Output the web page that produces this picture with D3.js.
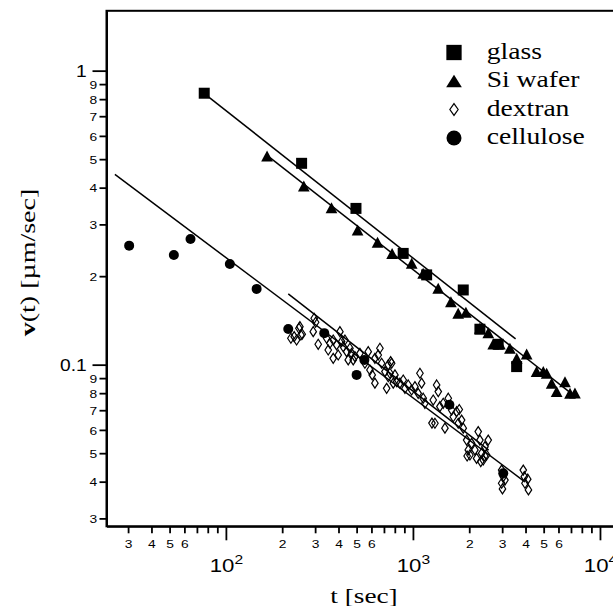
<!DOCTYPE html>
<html>
<head>
<meta charset="utf-8">
<script src="https://cdn.jsdelivr.net/npm/d3@7"></script>
<style>
  html, body { margin: 0; padding: 0; background: #fff; }
  svg { display: block; }
</style>
</head>
<body>
<div id="chart"></div>
<script>
'use strict';

// values (t in sec, v in um/sec)
const glass_t = [76.6, 254, 496, 887, 1184, 1858, 2281, 2857, 3585]
const glass_v = [0.838, 0.484, 0.340, 0.239, 0.202, 0.1795, 0.132, 0.1173, 0.0985]

const si_t = [166, 261, 367, 506, 647, 774, 985, 1134, 1365, 1596, 1746, 1920, 2280, 2528,
  2687, 2918, 3300, 3588, 4056, 4583, 4977, 5188, 5517, 5866, 6501, 6916, 7349]
const si_v = [0.513, 0.4055, 0.342, 0.287, 0.261, 0.2388, 0.2213, 0.2046, 0.182, 0.1637, 0.1496, 0.1508, 0.133, 0.1285,
  0.1175, 0.1175, 0.1137, 0.1051, 0.1088, 0.0947, 0.0947, 0.0935, 0.0865, 0.081, 0.0875, 0.0799, 0.0801]

const dextran_t = [222.6, 231.8, 238.8, 245.7, 251.8, 255.9, 296.6, 301.8, 293, 311.6, 345.6, 352.5, 359.8, 374.8,
  390.8, 407, 415.6, 424, 432.9, 442.1, 460.4, 470.2, 479.5, 489.6, 398.6, 374.8, 450.8, 520.7, 553.7, 576.7,
  589, 605.9, 626.3, 626.3, 652.3, 666.1, 680.2, 708.6, 723.6, 737.9, 769.5, 784.9, 801.4, 818.3, 737.9, 760,
  753.5, 852.3, 887.5, 906.3, 943.9, 984.1, 1025, 1067, 1090, 1113, 1135, 1159, 1284, 1311, 1339, 1366, 1394,
  1452, 1483, 1545, 1611, 1643, 1713, 1747, 1821, 1858, 1937, 1976, 2017, 2060, 2145, 2190, 2234, 2281, 2330,
  2376, 2427, 2478, 2527, 2981, 3041, 2981, 3105, 3011, 3890, 3939, 3972, 4110, 4146, 1264, 1769, 1949, 2421,
  2305, 248.7]
const dextran_v = [0.1230, 0.1245, 0.1213, 0.1330, 0.1262, 0.1269, 0.1438, 0.1394, 0.1295, 0.1173, 0.1230, 0.1122, 0.1183, 0.1213,
  0.1167, 0.1295, 0.1198, 0.1151, 0.1213, 0.1107, 0.1137, 0.1093, 0.1038, 0.1065, 0.1079, 0.1051, 0.1038, 0.1093, 0.1011, 0.1107,
  0.0959, 0.0923, 0.0865, 0.1051, 0.1079, 0.1137, 0.1011, 0.0947, 0.0831, 0.0910, 0.1011, 0.0865, 0.0923, 0.0876, 0.0998, 0.1024,
  0.0935, 0.0865, 0.0887, 0.0831, 0.0853, 0.0820, 0.0842, 0.0799, 0.0935, 0.0865, 0.0769, 0.0739, 0.0758, 0.0632, 0.0853, 0.0810, 0.0720,
  0.0739, 0.0608, 0.0769, 0.0701, 0.0665, 0.0692, 0.0632, 0.0648, 0.0608, 0.0554, 0.0513, 0.0493, 0.0540, 0.0513, 0.0480, 0.0592, 0.0554, 0.0500,
  0.0474, 0.0526, 0.0493, 0.0554, 0.0438, 0.0416, 0.0395, 0.0405, 0.0378, 0.0438, 0.0416, 0.0395, 0.0408, 0.0375, 0.0633, 0.0704, 0.0489, 0.0489,
  0.0468, 0.1347]

const cellulose_t = [30.4, 52.7, 64.7, 105, 146, 215.5, 335.7, 500, 550, 1567, 3041]
const cellulose_v = [0.254, 0.236, 0.2677, 0.220, 0.181, 0.1322, 0.128, 0.0923, 0.1038, 0.0731, 0.0427]

// power law fit lines, end points [t, v]
const glass_fit = [[80.4, 0.816], [3540, 0.1223]]
const si_fit = [[172, 0.506], [7330, 0.0782]]
const dextran_fit = [[215.5, 0.174], [2541, 0.0512]]
const cellulose_fit = [[25.5, 0.444], [3918, 0.0402]]

// axis ticks
const x_ticks = [30, 40, 50, 60, 70, 80, 90, 100, 200, 300, 400, 500, 600, 700, 800, 900,
  1000, 2000, 3000, 4000, 5000, 6000, 7000, 8000, 9000, 10000]
const x_tick_labels = ['3', '4', '5', '6', '', '', '', '10^2', '2', '3', '4', '5', '6', '', '', '',
  '10^3', '2', '3', '4', '5', '6', '', '', '', '10^4']
const y_ticks = [0.03, 0.04, 0.05, 0.06, 0.07, 0.08, 0.09, 0.1, 0.2, 0.3, 0.4, 0.5, 0.6, 0.7, 0.8, 0.9, 1]
const y_tick_labels = ['3', '4', '5', '6', '7', '8', '9', '0.1', '2', '3', '4', '5', '6', '7', '8', '9', '1']
const x_major = [100, 1000, 10000]
const y_major = [0.1, 1]

const legend_names = ['glass', 'Si wafer', 'dextran', 'cellulose']

const serif_font = "'Liberation Serif', 'Times New Roman', serif"
const sans_font = "'Liberation Sans', Arial, sans-serif"

// dimensions
const dimensions = {
  width: 613,
  height: 606,
  left: 106.5,
  right: 613,
  top: 10.8,
  bottom: 526.3
}

const svg_el = d3.select('#chart')
  .append('svg')
  .attr('width', dimensions.width)
  .attr('height', dimensions.height)

const x_scale = d3.scaleLog()
  .domain([23, 11740])
  .range([dimensions.left, dimensions.right])

const y_scale = d3.scaleLog()
  .domain([0.0282, 1.598])
  .range([dimensions.bottom, dimensions.top])

// marker shapes
const square_path = s => `M${-s/2},${-s/2}h${s}v${s}h${-s}Z`
const triangle_path = (w, h) => `M0,${-h/2}L${w/2},${h/2}L${-w/2},${h/2}Z`
const diamond_path = (w, h) => `M0,${-h/2}L${w/2},0L0,${h/2}L${-w/2},0Z`

// frame (top edge, right edge sits off the picture)
svg_el.append('rect')
  .attr('x', dimensions.left)
  .attr('y', dimensions.top)
  .attr('width', dimensions.right - dimensions.left + 20)
  .attr('height', dimensions.bottom - dimensions.top)
  .attr('fill', 'none')
  .attr('stroke', 'black')
  .attr('stroke-width', 2)

// x axis
const xAxis = d3.axisBottom(x_scale)
  .tickValues(x_ticks)
  .tickSize(7)
  .tickSizeOuter(0)
  .tickFormat((d, i) => x_tick_labels[i])

const xAxisGroup = svg_el.append('g')
  .attr('transform', `translate(0, ${dimensions.bottom})`)
  .call(xAxis)

xAxisGroup.select('.domain').attr('stroke-width', 2)
xAxisGroup.selectAll('.tick line')
  .attr('stroke-width', 1.8)
  .attr('y2', d => x_major.includes(d) ? 14 : 7)
xAxisGroup.selectAll('.tick text')
  .style('font-family', sans_font)
  .attr('font-size', 11.5)
  .attr('fill', 'black')
  .attr('y', 14)
  .attr('dy', '0.71em')
  .attr('transform', 'scale(1.2,1)')
  .each(function(d) {
    if(!x_major.includes(d)) return
    const parts = d3.select(this).text().split('^')
    const txt = d3.select(this).text('').attr('y', 45.7).attr('dy', 0).attr('font-size', 18.5)
    txt.append('tspan').text(parts[0])
    txt.append('tspan').attr('dy', -8).attr('font-size', 13).text(parts[1])
  })

// y axis
const yAxis = d3.axisLeft(y_scale)
  .tickValues(y_ticks)
  .tickSize(7)
  .tickSizeOuter(0)
  .tickFormat((d, i) => y_tick_labels[i])

const yAxisGroup = svg_el.append('g')
  .attr('transform', `translate(${dimensions.left}, 0)`)
  .call(yAxis)

yAxisGroup.select('.domain').attr('stroke-width', 2)
yAxisGroup.selectAll('.tick line')
  .attr('stroke-width', 1.8)
  .attr('x2', d => y_major.includes(d) ? -14 : -7)
yAxisGroup.selectAll('.tick text')
  .style('font-family', sans_font)
  .attr('fill', 'black')
  .attr('font-size', d => y_major.includes(d) ? 16 : 11.5)
  .attr('x', d => y_major.includes(d) ? -16.5 : -7.7)
  .attr('dy', '0.36em')
  .attr('transform', 'scale(1.2,1)')

// titles
svg_el.append('text')
  .style('font-family', serif_font)
  .style('font-size', '22px')
  .attr('transform', 'translate(364, 603) scale(1.24,1)')
  .attr('text-anchor', 'middle')
  .text('t [sec]')

const y_title = svg_el.append('text')
  .style('font-family', serif_font)
  .style('font-size', '20px')
  .attr('transform', 'translate(35, 262.5) rotate(-90) scale(1.4,1)')
  .attr('text-anchor', 'middle')
y_title.append('tspan').style('font-weight', 'bold').text('v')
y_title.append('tspan').style('font-weight', 'normal').text('(t) [µm/sec]')

// fit lines
const line = d3.line()
  .x(d => x_scale(d[0]))
  .y(d => y_scale(d[1]))

svg_el.append('g')
  .selectAll('path')
  .data([glass_fit, si_fit, dextran_fit, cellulose_fit])
  .join('path')
  .attr('d', line)
  .attr('fill', 'none')
  .attr('stroke', 'black')
  .attr('stroke-width', 1.5)

// markers
const points_g = svg_el.append('g')

points_g.append('g')
  .selectAll('path')
  .data(d3.zip(dextran_t, dextran_v))
  .join('path')
  .attr('transform', d => `translate(${x_scale(d[0])},${y_scale(d[1])})`)
  .attr('d', diamond_path(6.5, 10))
  .attr('fill', 'none')
  .attr('stroke', 'black')
  .attr('stroke-width', 1.2)

points_g.append('g')
  .selectAll('circle')
  .data(d3.zip(cellulose_t, cellulose_v))
  .join('circle')
  .attr('cx', d => x_scale(d[0]))
  .attr('cy', d => y_scale(d[1]))
  .attr('r', 5)
  .attr('fill', 'black')

points_g.append('g')
  .selectAll('path')
  .data(d3.zip(si_t, si_v))
  .join('path')
  .attr('transform', d => `translate(${x_scale(d[0])},${y_scale(d[1])})`)
  .attr('d', triangle_path(11.7, 11))
  .attr('fill', 'black')

points_g.append('g')
  .selectAll('path')
  .data(d3.zip(glass_t, glass_v))
  .join('path')
  .attr('transform', d => `translate(${x_scale(d[0])},${y_scale(d[1])})`)
  .attr('d', square_path(11))
  .attr('fill', 'black')

// legend
const legend_x = 454
const legend_y = 52.5
const legend_step = 28.5

const legendGroup = svg_el.append('g')
  .selectAll('g')
  .data(legend_names)
  .join('g')
  .attr('transform', (d, i) => `translate(${legend_x},${legend_y + i * legend_step})`)

legendGroup.append('path')
  .attr('d', (d, i) => [square_path(15.3), triangle_path(15.7, 12.7), diamond_path(8.3, 11.7), null][i])
  .attr('fill', (d, i) => i === 2 ? 'none' : 'black')
  .attr('stroke', (d, i) => i === 2 ? 'black' : 'none')
  .attr('stroke-width', 1.2)

legendGroup.filter((d, i) => i === 3)
  .append('circle')
  .attr('r', 7.5)
  .attr('fill', 'black')

legendGroup.append('text')
  .style('font-family', serif_font)
  .style('font-size', '23px')
  .attr('transform', 'translate(32.7, 6) scale(1.2,1)')
  .text(d => d)
</script>
</body>
</html>
